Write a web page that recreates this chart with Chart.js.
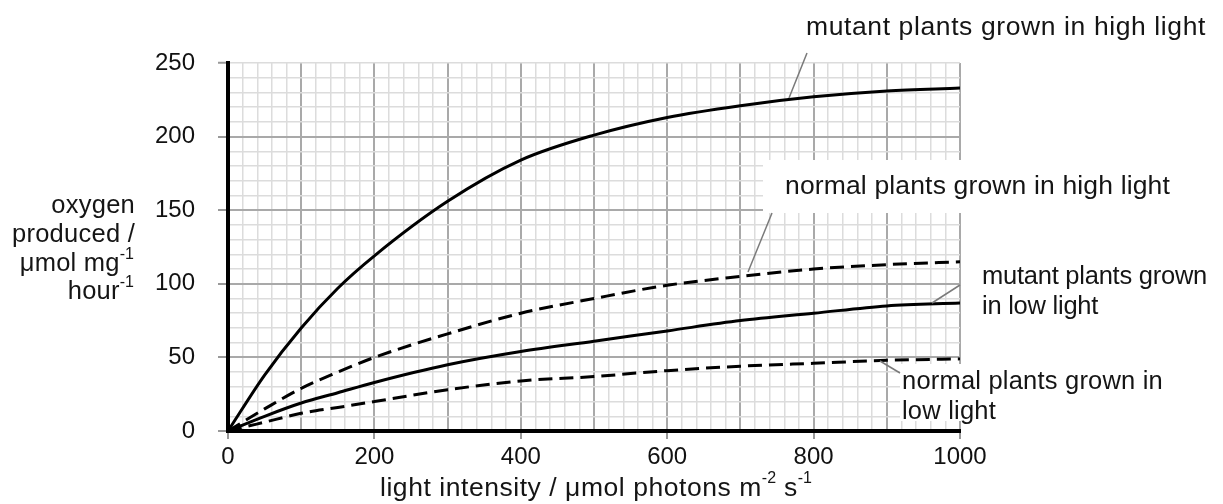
<!DOCTYPE html>
<html><head><meta charset="utf-8">
<script src="https://cdn.jsdelivr.net/npm/chart.js@4.4.1/dist/chart.umd.min.js"></script>
<style>html,body{margin:0;padding:0;background:#fff;} #wrap{width:1223px;height:504px;position:relative;}</style>
</head><body><div id="wrap"><canvas id="c" width="1223" height="504"></canvas></div>
<script>
// ---- data ----
const lightIntensity = [0, 50, 100, 150, 200, 300, 400, 500, 600, 700, 800, 900, 1000];
const mutantHigh     = [0, 38, 70, 97, 119, 156, 184, 201, 213, 221, 227, 231, 233];
const normalHigh     = [0, 15, 29, 40, 50, 66, 80, 90, 99, 105, 110, 113, 115];
const mutantLow      = [0, 10, 19, 26, 33, 45, 54, 61, 68, 75, 80, 85, 87];
const normalLow      = [0, 6, 12, 16, 20, 28, 34, 37, 41, 44, 46, 48, 49];
const xTickLabels = [0, 200, 400, 600, 800, 1000];
const yTickLabels = [0, 50, 100, 150, 200, 250];

const FONT = '"Liberation Sans", Arial, Helvetica, sans-serif';
const pts = arr => lightIntensity.map((x, i) => ({x: x, y: arr[i]}));

function measure(ctx, parts, size, supSize, ls) {
  let total = 0;
  parts.forEach(p => {
    ctx.font = (p[1] ? supSize : size) + 'px ' + FONT;
    ctx.letterSpacing = (p[1] ? 0 : ls) + 'px';
    total += ctx.measureText(p[0]).width;
  });
  ctx.letterSpacing = '0px';
  return total;
}
function spacingFor(ctx, parts, size, supSize, target) {
  const w = measure(ctx, parts, size, supSize, 0);
  const n = parts.filter(p => !p[1]).reduce((a, p) => a + p[0].length, 0);
  return (target - w) / n;
}
function rich(ctx, parts, x, y, align, size, supSize, ls) {
  const total = measure(ctx, parts, size, supSize, ls);
  let cx = align === 'right' ? x - total : (align === 'center' ? x - total / 2 : x);
  ctx.textAlign = 'left';
  ctx.textBaseline = 'middle';
  parts.forEach(p => {
    ctx.font = (p[1] ? supSize : size) + 'px ' + FONT;
    ctx.letterSpacing = (p[1] ? 0 : ls) + 'px';
    ctx.fillText(p[0], cx, p[1] ? y - size * 0.38 : y);
    cx += ctx.measureText(p[0]).width;
  });
  ctx.letterSpacing = '0px';
}

const decor = {
  id: 'decor',
  beforeDatasetsDraw(chart) {
    const ctx = chart.ctx;
    ctx.save();
    ctx.fillStyle = '#fff';
    ctx.fillRect(763, 160, 200, 53);   // label box: normal plants high light
    ctx.fillRect(900, 364, 62, 57);    // label box: normal plants low light
    ctx.restore();
  },
  afterDraw(chart) {
    const ctx = chart.ctx;
    ctx.save();
    ctx.strokeStyle = '#7a7a7a';
    ctx.lineWidth = 1.5;
    [[807,53,789,98],[772,213,748,272],[960,285,932,303],[900,373,880,361]].forEach(l => {
      ctx.beginPath(); ctx.moveTo(l[0], l[1]); ctx.lineTo(l[2], l[3]); ctx.stroke();
    });
    ctx.fillStyle = '#151515';
    const S = 26.5, SS = 16, SY = 25.5;
    let ls = spacingFor(ctx, [['mutant plants grown in high light']], S, SS, 400);
    rich(ctx, [['mutant plants grown in high light']], 806, 28, 'left', S, SS, ls);
    ls = spacingFor(ctx, [['normal plants grown in high light']], S, SS, 385);
    rich(ctx, [['normal plants grown in high light']], 785, 187, 'left', S, SS, ls);
    ls = spacingFor(ctx, [['mutant plants grown']], SY, SS, 225);
    rich(ctx, [['mutant plants grown']], 982, 277, 'left', SY, SS, ls);
    rich(ctx, [['in low light']], 982, 307, 'left', SY, SS, ls);
    ls = spacingFor(ctx, [['normal plants grown in']], SY, SS, 261);
    rich(ctx, [['normal plants grown in']], 902, 382, 'left', SY, SS, ls);
    rich(ctx, [['low light']], 902, 412, 'left', SY, SS, ls);
    ls = spacingFor(ctx, [['produced /']], SY, SS, 123);
    rich(ctx, [['oxygen']], 135, 206, 'right', SY, SS, ls);
    rich(ctx, [['produced /']], 135, 235, 'right', SY, SS, ls);
    rich(ctx, [['μmol mg'], ['-1', true]], 134, 264, 'right', SY, SS, ls);
    rich(ctx, [['hour'], ['-1', true]], 134, 292, 'right', SY, SS, ls);
    const xt = [['light intensity / μmol photons m'], ['-2', true], [' s'], ['-1', true]];
    ls = spacingFor(ctx, xt, S, SS, 432);
    rich(ctx, xt, 596, 489, 'center', S, SS, ls);
    ctx.restore();
  }
};

const dsBase = {borderColor: '#000', borderWidth: 3, pointRadius: 0, fill: false, cubicInterpolationMode: 'monotone'};

new Chart(document.getElementById('c'), {
  type: 'line',
  data: {
    datasets: [
      Object.assign({label: 'mutant plants grown in high light', data: pts(mutantHigh)}, dsBase),
      Object.assign({label: 'normal plants grown in high light', data: pts(normalHigh), borderDash: [14, 7]}, dsBase),
      Object.assign({label: 'mutant plants grown in low light', data: pts(mutantLow)}, dsBase),
      Object.assign({label: 'normal plants grown in low light', data: pts(normalLow), borderDash: [14, 7]}, dsBase)
    ]
  },
  options: {
    responsive: false,
    animation: false,
    devicePixelRatio: 1,
    layout: {padding: {top: 63, right: 263, left: 0, bottom: 0}},
    plugins: {legend: {display: false}, tooltip: {enabled: false}},
    scales: {
      x: {
        type: 'linear', min: 0, max: 1000,
        afterFit: s => { s.height = 73; },
        border: {display: true, color: '#000', width: 4},
        grid: {
          drawTicks: true, tickLength: 8,
          color: c => (c.tick.value % 100 === 0 ? '#a9a9a9' : '#dcdcdc'),
          lineWidth: c => (c.tick.value % 100 === 0 ? 2 : 1.5),
          tickColor: c => (xTickLabels.includes(c.tick.value) ? '#999' : 'rgba(0,0,0,0)'),
          tickWidth: 2
        },
        ticks: {
          stepSize: 20, autoSkip: false, maxRotation: 0, minRotation: 0, padding: 4,
          color: '#111', font: {family: FONT, size: 24},
          callback: v => (xTickLabels.includes(v) ? String(v) : '')
        }
      },
      y: {
        type: 'linear', min: 0, max: 250,
        afterFit: s => { s.width = 228; },
        border: {display: true, color: '#000', width: 4},
        grid: {
          drawTicks: true, tickLength: 10,
          color: c => (c.tick.value % 50 === 0 && c.tick.value !== 250 ? '#a9a9a9' : '#dcdcdc'),
          lineWidth: c => (c.tick.value % 50 === 0 && c.tick.value !== 250 ? 2 : 1.5),
          tickColor: c => (yTickLabels.includes(c.tick.value) ? '#999' : 'rgba(0,0,0,0)'),
          tickWidth: 2
        },
        ticks: {
          stepSize: 10, autoSkip: false, padding: 23,
          color: '#111', font: {family: FONT, size: 24},
          callback: v => (yTickLabels.includes(v) ? String(v) : '')
        }
      }
    }
  },
  plugins: [decor]
});
</script>
</body></html>
